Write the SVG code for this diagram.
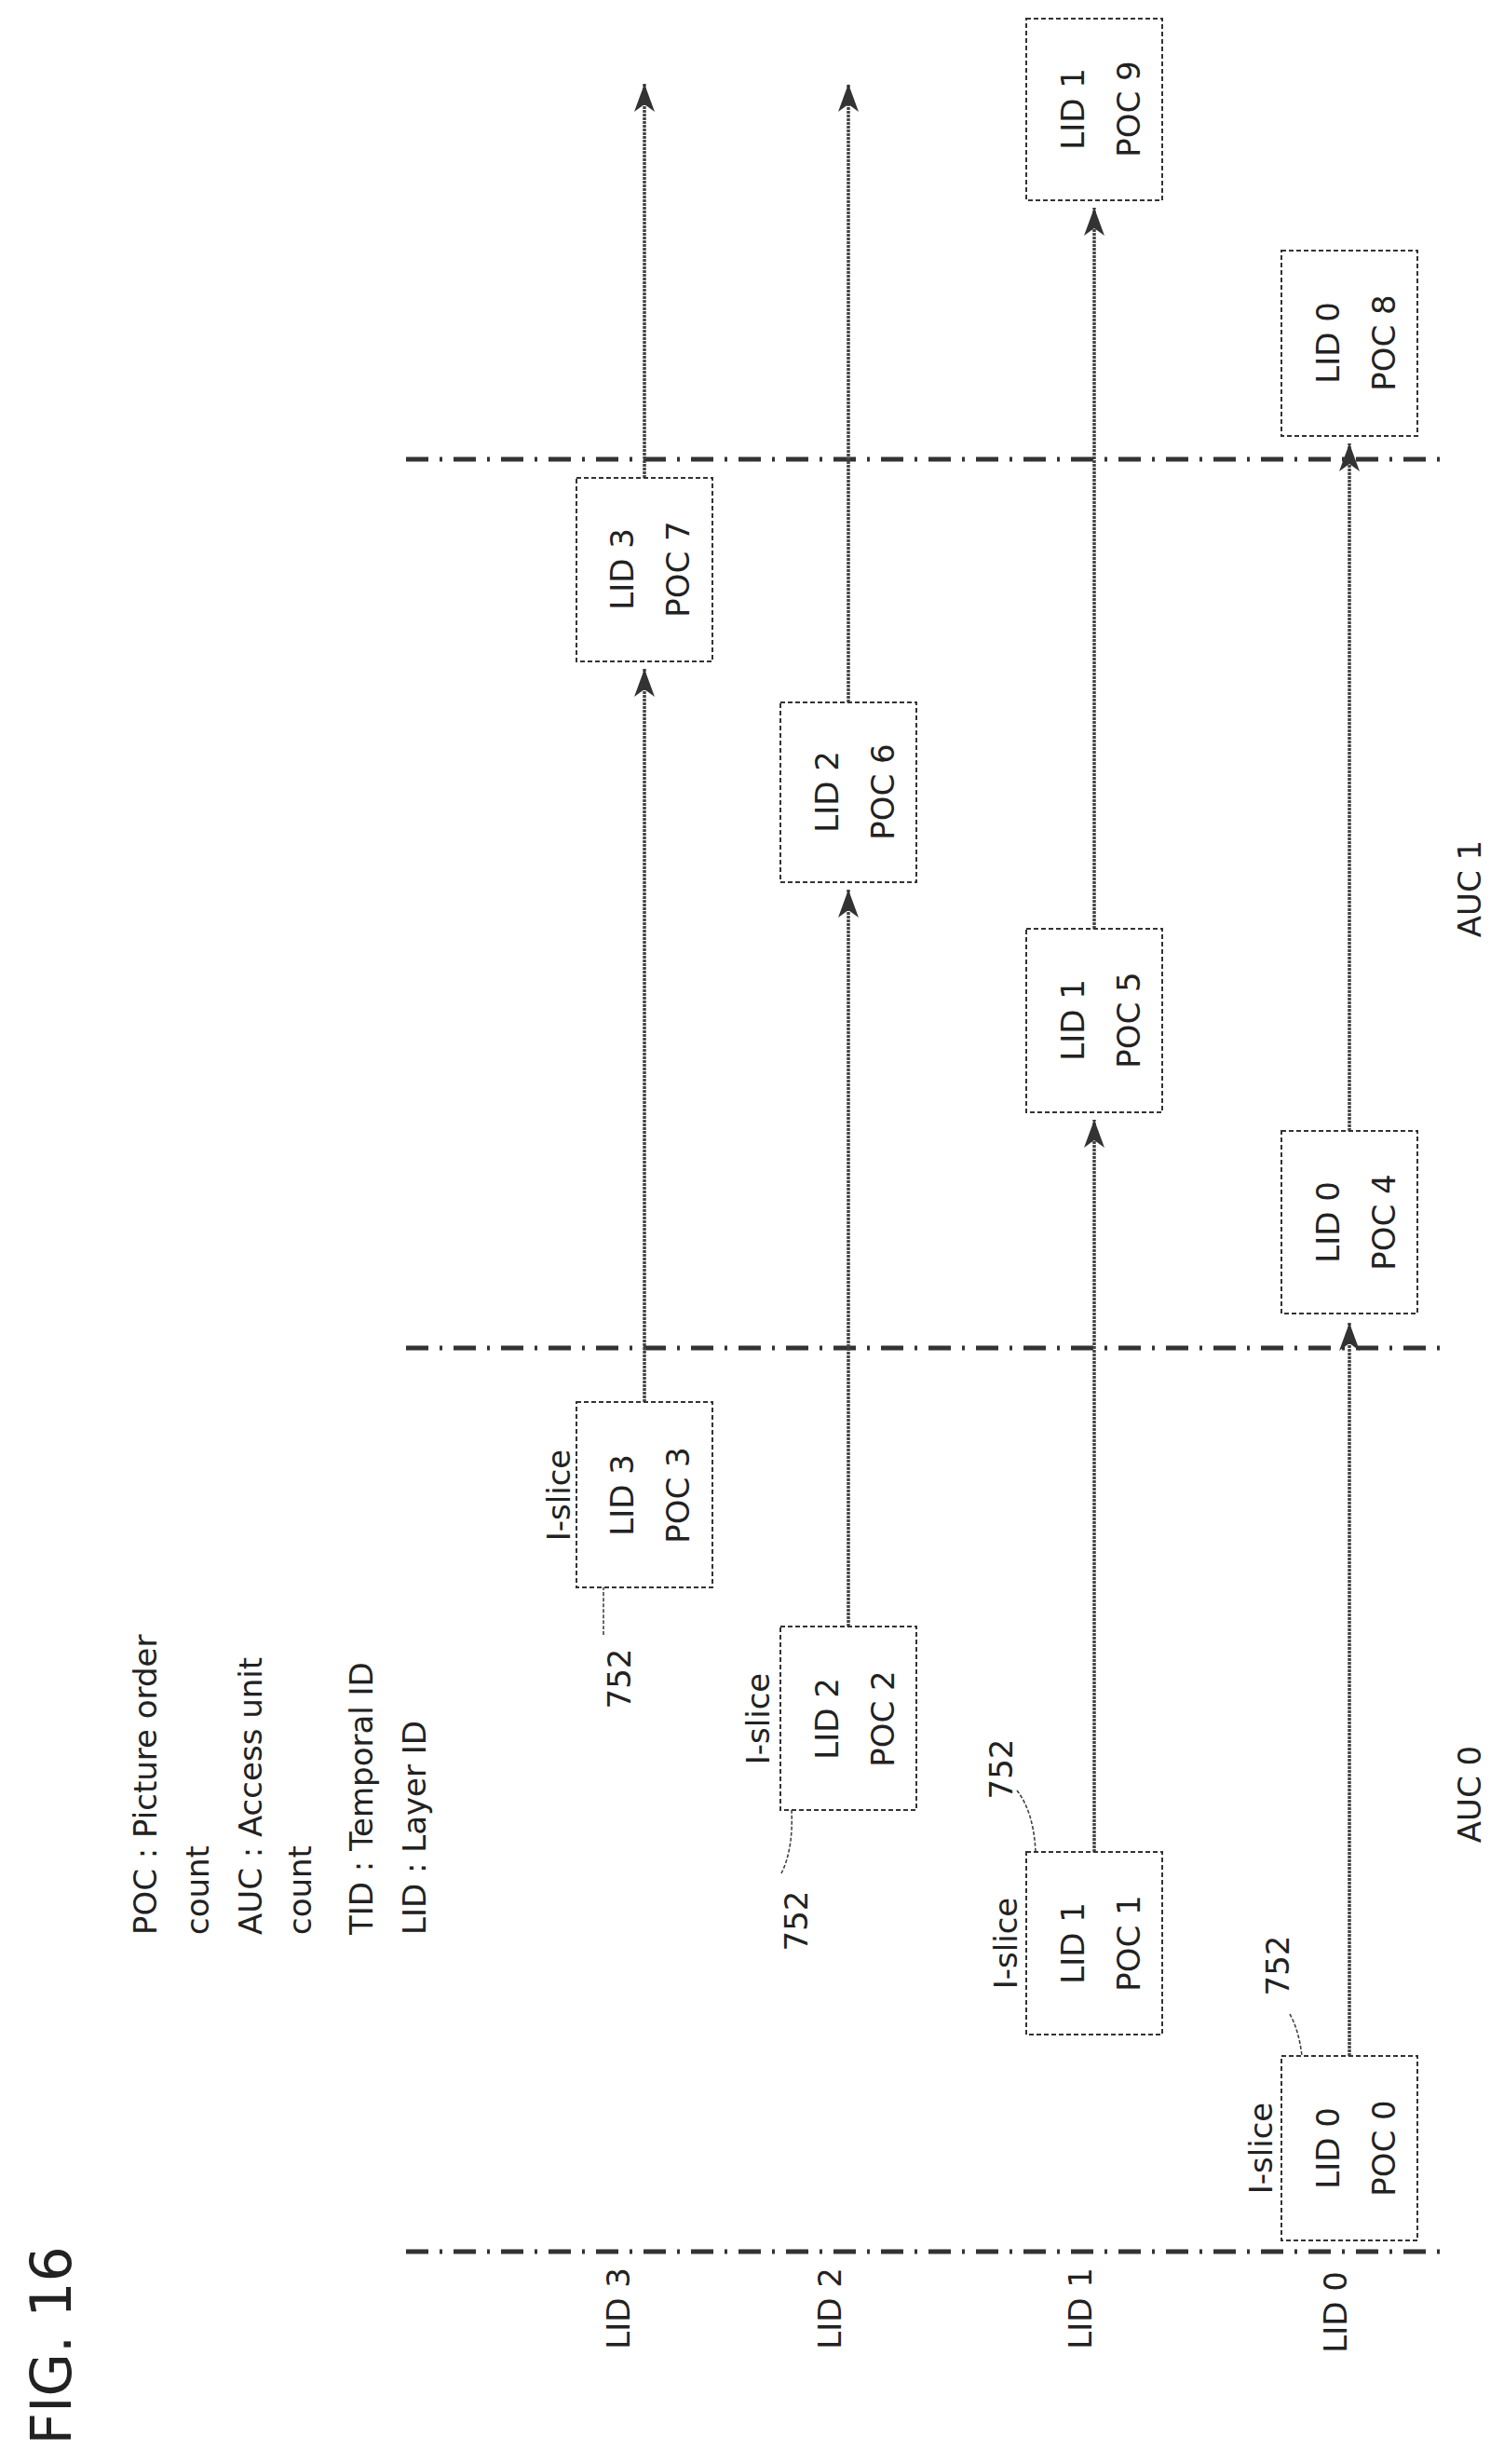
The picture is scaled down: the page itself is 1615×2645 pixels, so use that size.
<svg xmlns="http://www.w3.org/2000/svg" width="1615" height="2645" viewBox="0 0 1615 2645">
<style>
text{font-family:"DejaVu Sans","Liberation Sans",sans-serif;font-size:34px;fill:#222}
.box{fill:#fff;stroke:#333;stroke-width:2;stroke-dasharray:5 3}
.ln{stroke:#444;stroke-width:3.5;fill:none;stroke-dasharray:3 1}
.dd{stroke:#333;stroke-width:5;fill:none;stroke-dasharray:24 12 3 12}
.ld{stroke:#444;stroke-width:1.6;fill:none;stroke-dasharray:4 2}
.fig{font-size:60px}
</style>
<defs>
<marker id="ar" markerUnits="userSpaceOnUse" markerWidth="32" markerHeight="22" refX="30" refY="11" orient="auto">
<path d="M0,0 L30,11 L0,22 L8,11 Z" fill="#333"/>
</marker>
</defs>
<text class="fig" transform="translate(76,2518) rotate(-90)" text-anchor="middle">FIG. 16</text>
<g id="legend">
<text transform="translate(168,2077) rotate(-90)">POC : Picture order</text>
<text transform="translate(224,2077) rotate(-90)">count</text>
<text transform="translate(281,2077) rotate(-90)">AUC : Access unit</text>
<text transform="translate(334,2077) rotate(-90)">count</text>
<text transform="translate(400,2077) rotate(-90)">TID : Temporal ID</text>
<text transform="translate(457,2077) rotate(-90)">LID : Layer ID</text>
</g>
<g id="axes">
<line class="dd" x1="436" y1="493" x2="1550" y2="493"/>
<line class="dd" x1="436" y1="1447" x2="1550" y2="1447"/>
<line class="dd" x1="436" y1="2417" x2="1550" y2="2417"/>
<text transform="translate(676,2478) rotate(-90)" text-anchor="middle">LID 3</text>
<text transform="translate(903,2478) rotate(-90)" text-anchor="middle">LID 2</text>
<text transform="translate(1172,2478) rotate(-90)" text-anchor="middle">LID 1</text>
<text transform="translate(1446,2482) rotate(-90)" text-anchor="middle">LID 0</text>
<text transform="translate(1590,1926) rotate(-90)" text-anchor="middle">AUC 0</text>
<text transform="translate(1590,954) rotate(-90)" text-anchor="middle">AUC 1</text>
</g>
<g id="connectors">
<line class="ln" x1="692" y1="1505" x2="692" y2="718" marker-end="url(#ar)"/>
<line class="ln" x1="692" y1="513" x2="692" y2="90" marker-end="url(#ar)"/>
<line class="ln" x1="911" y1="1746" x2="911" y2="955" marker-end="url(#ar)"/>
<line class="ln" x1="911" y1="754" x2="911" y2="90" marker-end="url(#ar)"/>
<line class="ln" x1="1175" y1="1988" x2="1175" y2="1202" marker-end="url(#ar)"/>
<line class="ln" x1="1175" y1="997" x2="1175" y2="223" marker-end="url(#ar)"/>
<line class="ln" x1="1449" y1="2207" x2="1449" y2="1420" marker-end="url(#ar)"/>
<line class="ln" x1="1449" y1="1214" x2="1449" y2="476" marker-end="url(#ar)"/>
<path class="ld" d="M1385,2162 Q1395,2180 1398,2207"/>
<path class="ld" d="M1092,1922 Q1110,1945 1112,1988"/>
<path class="ld" d="M839,2011 Q852,1985 850,1943"/>
<path class="ld" d="M648,1755 Q648,1730 648,1704"/>
</g>
<g id="poc0"><rect class="box" x="1376" y="2207" width="146" height="198"/>
<text transform="translate(1438,2306) rotate(-90)" text-anchor="middle">LID 0</text>
<text transform="translate(1498,2306) rotate(-90)" text-anchor="middle">POC 0</text>
<text transform="translate(1366,2306) rotate(-90)" text-anchor="middle">I-slice</text>
<text transform="translate(1384,2110) rotate(-90)" text-anchor="middle">752</text></g>
<g id="poc1"><rect class="box" x="1102" y="1988" width="146" height="196"/>
<text transform="translate(1164,2086) rotate(-90)" text-anchor="middle">LID 1</text>
<text transform="translate(1224,2086) rotate(-90)" text-anchor="middle">POC 1</text>
<text transform="translate(1092,2086) rotate(-90)" text-anchor="middle">I-slice</text>
<text transform="translate(1087,1899) rotate(-90)" text-anchor="middle">752</text></g>
<g id="poc2"><rect class="box" x="838" y="1746" width="146" height="197"/>
<text transform="translate(900,1845) rotate(-90)" text-anchor="middle">LID 2</text>
<text transform="translate(960,1845) rotate(-90)" text-anchor="middle">POC 2</text>
<text transform="translate(826,1845) rotate(-90)" text-anchor="middle">I-slice</text>
<text transform="translate(867,2062) rotate(-90)" text-anchor="middle">752</text></g>
<g id="poc3"><rect class="box" x="619" y="1505" width="146" height="199"/>
<text transform="translate(680,1605) rotate(-90)" text-anchor="middle">LID 3</text>
<text transform="translate(740,1605) rotate(-90)" text-anchor="middle">POC 3</text>
<text transform="translate(612,1605) rotate(-90)" text-anchor="middle">I-slice</text>
<text transform="translate(677,1802) rotate(-90)" text-anchor="middle">752</text></g>
<g id="poc4"><rect class="box" x="1376" y="1214" width="146" height="196"/>
<text transform="translate(1438,1312) rotate(-90)" text-anchor="middle">LID 0</text>
<text transform="translate(1498,1312) rotate(-90)" text-anchor="middle">POC 4</text></g>
<g id="poc5"><rect class="box" x="1102" y="997" width="146" height="197"/>
<text transform="translate(1164,1095) rotate(-90)" text-anchor="middle">LID 1</text>
<text transform="translate(1224,1095) rotate(-90)" text-anchor="middle">POC 5</text></g>
<g id="poc6"><rect class="box" x="838" y="754" width="146" height="193"/>
<text transform="translate(900,850) rotate(-90)" text-anchor="middle">LID 2</text>
<text transform="translate(960,850) rotate(-90)" text-anchor="middle">POC 6</text></g>
<g id="poc7"><rect class="box" x="619" y="513" width="146" height="197"/>
<text transform="translate(680,611) rotate(-90)" text-anchor="middle">LID 3</text>
<text transform="translate(740,611) rotate(-90)" text-anchor="middle">POC 7</text></g>
<g id="poc8"><rect class="box" x="1376" y="269" width="146" height="199"/>
<text transform="translate(1438,368) rotate(-90)" text-anchor="middle">LID 0</text>
<text transform="translate(1498,368) rotate(-90)" text-anchor="middle">POC 8</text></g>
<g id="poc9"><rect class="box" x="1102" y="20" width="146" height="195"/>
<text transform="translate(1164,117) rotate(-90)" text-anchor="middle">LID 1</text>
<text transform="translate(1224,117) rotate(-90)" text-anchor="middle">POC 9</text></g>
</svg>
